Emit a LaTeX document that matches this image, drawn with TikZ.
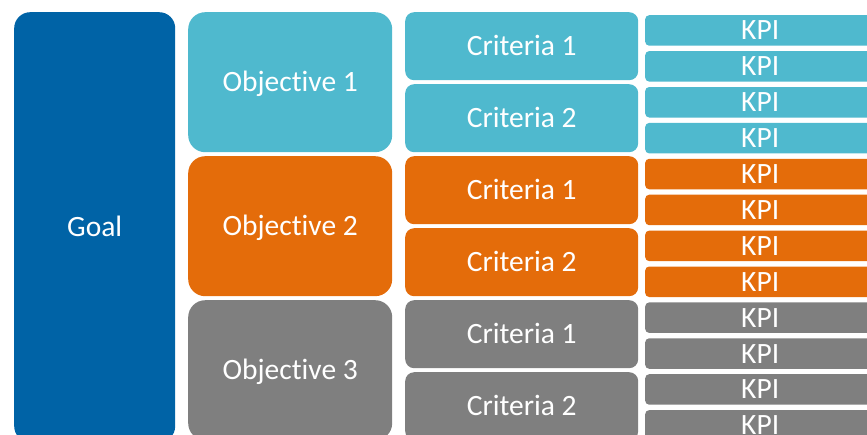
\documentclass[tikz,border=0pt]{standalone}
\usepackage{fontspec}
\setmainfont{Carlito}[Ligatures=NoCommon]
\usepackage{tikz}
\definecolor{goalblue}{RGB}{0,99,166}
\definecolor{cyanblue}{RGB}{79,185,206}
\definecolor{orange}{RGB}{228,108,10}
\definecolor{grey}{RGB}{127,127,127}
\tikzset{%
    box/.style={%
        rectangle, anchor=north west, inner sep=0pt, text=white,
        font=\fontsize{29.5}{34}\selectfont, text height=19pt, text depth=0pt
    },
    goal/.style={box, rounded corners=16pt, minimum width=161pt, minimum height=430pt},
    objective/.style={box, rounded corners=17pt, minimum width=204pt, minimum height=140pt},
    criteria/.style={box, rounded corners=9pt, minimum width=233pt, minimum height=68pt},
    kpi/.style={box, rounded corners=4pt, minimum width=230pt, minimum height=30.5pt}
}

\begin{document}
\begin{tikzpicture}[x=1pt,y=-1pt]
    \useasboundingbox (0,0) rectangle (867,434);
    \clip (0,0) rectangle (867,434);
%-----------------------------------------------
    \node[goal, fill=goalblue] (g) at (14,12) {Goal};
%-----------------------------------------------
    \node[objective, fill=cyanblue] (o1) at (188,12) {Objective 1};
    \node[objective, fill=orange] (o2) at (188,156) {Objective 2};
    \node[objective, fill=grey] (o3) at (188,300) {Objective 3};
%-----------------------------------------------
    \node[criteria, fill=cyanblue] (c11) at (405,12) {Criteria 1};
    \node[criteria, fill=cyanblue] (c12) at (405,84) {Criteria 2};
    \node[criteria, fill=orange] (c21) at (405,156) {Criteria 1};
    \node[criteria, fill=orange] (c22) at (405,228) {Criteria 2};
    \node[criteria, fill=grey] (c31) at (405,300) {Criteria 1};
    \node[criteria, fill=grey] (c32) at (405,372) {Criteria 2};
%-----------------------------------------------
    \node[kpi, fill=cyanblue] (k1) at (645,15) {KPI};
    \node[kpi, fill=cyanblue] (k2) at (645,50.9) {KPI};
    \node[kpi, fill=cyanblue] (k3) at (645,86.8) {KPI};
    \node[kpi, fill=cyanblue] (k4) at (645,122.7) {KPI};
    \node[kpi, fill=orange] (k5) at (645,158.6) {KPI};
    \node[kpi, fill=orange] (k6) at (645,194.5) {KPI};
    \node[kpi, fill=orange] (k7) at (645,230.4) {KPI};
    \node[kpi, fill=orange] (k8) at (645,266.3) {KPI};
    \node[kpi, fill=grey] (k9) at (645,302.2) {KPI};
    \node[kpi, fill=grey] (k10) at (645,338.1) {KPI};
    \node[kpi, fill=grey] (k11) at (645,374) {KPI};
    \node[kpi, fill=grey] (k12) at (645,409.9) {KPI};
\end{tikzpicture}
\end{document}
